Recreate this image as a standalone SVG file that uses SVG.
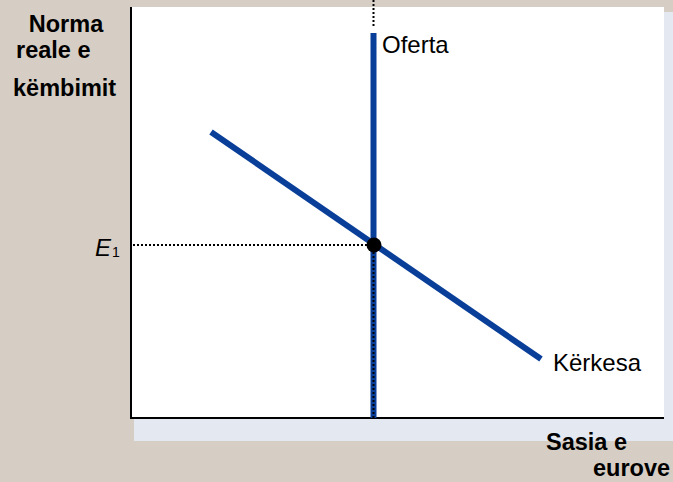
<svg xmlns="http://www.w3.org/2000/svg" width="673" height="482" viewBox="0 0 673 482">
<defs>
<style>
.lbl{font-family:"Liberation Sans",Arial,sans-serif;font-size:24px;fill:#000}
.ax{font-family:"Liberation Sans",Arial,sans-serif;font-size:23.5px;font-weight:bold;fill:#000}
.curve{stroke:#0a3f99;stroke-width:6;fill:none}
.dot{stroke:#000;stroke-width:2;stroke-dasharray:2,2;fill:none}
</style>
</defs>
<rect x="0" y="0" width="673" height="482" fill="#d6cec4"/>
<g id="plot">
<rect x="134" y="12" width="539" height="429" fill="#e4e8f1"/>
<rect x="130" y="7" width="534" height="411" fill="#ffffff"/>
<line x1="131" y1="7" x2="131" y2="418" stroke="#000" stroke-width="2"/>
<line x1="130" y1="418" x2="664" y2="418" stroke="#000" stroke-width="2"/>
</g>
<g id="connectors">
<line class="dot" x1="373.5" y1="0" x2="373.5" y2="27"/>
<line class="dot" x1="133" y1="245" x2="372" y2="245"/>
</g>
<g id="oferta">
<line class="curve" x1="373.5" y1="33" x2="373.5" y2="418" stroke-width="5"/>
<line class="dot" x1="373.5" y1="248" x2="373.5" y2="418"/>
<text class="lbl" x="382" y="53">Oferta</text>
</g>
<g id="kerkesa">
<line class="curve" x1="211" y1="132" x2="541" y2="359"/>
<text class="lbl" x="553" y="371">Kërkesa</text>
</g>
<g id="E1">
<circle cx="374" cy="245" r="7.5" fill="#000"/>
<text class="lbl" x="95" y="256" font-size="23" font-style="italic">E<tspan font-size="14" font-style="normal" dx="1" dy="1">1</tspan></text>
</g>
<g id="ylabel">
<text class="ax" x="66" y="32" text-anchor="middle">Norma</text>
<text class="ax" x="16" y="58">reale e</text>
<text class="ax" x="13" y="96">këmbimit</text>
</g>
<g id="xlabel">
<text class="ax" x="546" y="450">Sasia e</text>
<text class="ax" x="593" y="476">eurove</text>
</g>
</svg>
